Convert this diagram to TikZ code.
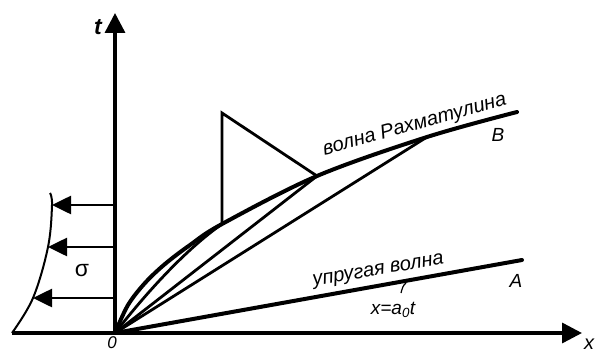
\documentclass[tikz,border=0pt]{standalone}
\usepackage{fontspec}
\setmainfont{Liberation Sans}
\usetikzlibrary{arrows.meta}
\begin{document}
\begin{tikzpicture}[x=1pt,y=-1pt,
  axis/.style={line width=3.4pt, -{Triangle[length=20pt,width=20pt]}},
  load/.style={line width=2.6pt, -{Triangle[length=19pt,width=18pt]}},
  wave/.style={line width=4pt, line cap=round},
  ray/.style={line width=2.8pt, line cap=round},
  thinline/.style={line width=2pt},
  tri/.style={line width=2.8pt, line join=miter},
  lbl/.style={inner sep=0pt, font=\fontsize{20}{22}\selectfont\itshape},
  sml/.style={inner sep=0pt, font=\fontsize{19}{21}\selectfont\itshape}]
\useasboundingbox (0,0) rectangle (596,353);
% key points
\coordinate (O) at (115,333);
\coordinate (L) at (12,333);
\coordinate (T) at (115,13);
\coordinate (X) at (582,333);
\coordinate (P1) at (222,224);
\coordinate (P2) at (317,176);
\coordinate (P3) at (427,137);
\coordinate (E) at (517,112);
\coordinate (Tt) at (222,113);
\coordinate (Ael) at (522,260);
% load curve
\coordinate (Ctop) at (50,193);
\coordinate (S1) at (52,205);
\coordinate (S2) at (48,247);
\coordinate (S3) at (33,298);
\coordinate (a1) at (115,205);
\coordinate (a2) at (115,247);
\coordinate (a3) at (115,298);
% axes
\draw[axis] (L) -- (X);
\draw[axis] (O) -- (T);
% pressure profile
\draw[thinline] plot[smooth, tension=0.6] coordinates {(L) (S3) (S2) (S1) (Ctop)};
\draw[load] (a1) -- (S1);
\draw[load] (a2) -- (S2);
\draw[load] (a3) -- (S3);
% rays and waves
\draw[ray] (O) .. controls (150,288) and (188,248) .. (P1);
\draw[ray] (O) -- (P2);
\draw[ray] (O) -- (P3);
\draw[wave] (O) -- (Ael);
\draw[wave] plot[smooth, tension=0.55] coordinates {(O) (128,305) (145,283) (165,264) (190,245) (P1) (P2) (P3) (E)};
% triangle
\draw[tri] (P1) -- (Tt) -- (P2);
% labels
\node[lbl, anchor=base, rotate=15.5] (rw) at (416,130) {волна Рахматулина};
\node[lbl, anchor=base, rotate=9.5] (ew) at (379,275) {упругая волна};
\node[sml, anchor=base] (fx) at (393,314) {x=a\textsubscript{0}t};
\coordinate (k1) at (401,293);
\coordinate (k2) at (406,283);
\draw[line width=1.2pt] (k1) .. controls (402,289) and (403,285) .. (k2);
\node[sml] (lA) at (516,281) {A};
\node[sml] (lB) at (498,135) {B};
\node[inner sep=0pt, font=\fontsize{23}{25}\selectfont\bfseries\itshape] (lt) at (98,27) {t};
\node[lbl] (lx) at (589,344) {x};
\node[inner sep=0pt, font=\fontsize{17}{19}\selectfont\itshape] (l0) at (112,343) {0};
\node[inner sep=0pt, font=\fontsize{23}{25}\selectfont] (ls) at (82,271) {σ};
\end{tikzpicture}
\end{document}
